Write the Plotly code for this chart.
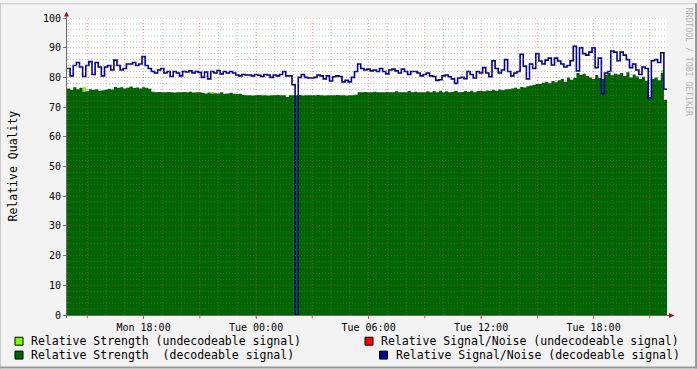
import plotly.graph_objects as go
import pandas as pd

# ---------------- data ----------------
start_time = "2024-01-01 13:55"   # Monday
end_time = "2024-01-02 21:55"     # Tuesday
step_minutes = 10

snr_decodeable = [
    83.0, 80.5, 84.0, 85.0, 83.5, 80.3, 84.0, 85.3, 81.0, 85.0,
    83.5, 80.5, 83.5, 84.0, 82.5, 85.8, 84.0, 82.5, 83.0, 84.5,
    84.5, 85.0, 84.0, 84.5, 87.0, 84.0, 83.0, 82.0, 81.5, 82.5,
    83.0, 81.5, 82.0, 80.3, 82.0, 81.5, 80.5, 82.0, 81.8, 82.2,
    81.5, 82.0, 81.7, 80.0, 81.8, 79.5, 82.0, 81.5, 82.3, 81.2,
    82.0, 81.5, 82.0, 81.5, 80.8, 80.5, 81.0, 80.8, 80.8, 80.5,
    81.0, 80.7, 80.3, 81.0, 80.8, 80.0, 80.8, 80.5, 81.0, 82.0,
    80.5, 80.5, 77.5, 0.0, 80.0, 81.0, 80.0, 79.8, 79.8, 80.0,
    80.8, 80.5, 79.5, 80.5, 78.8, 80.2, 80.5, 80.3, 78.5, 79.0,
    78.5, 80.0, 82.0, 84.5, 83.0, 82.5, 82.8, 82.2, 82.5, 82.0,
    83.0, 82.0, 81.2, 82.5, 82.8, 82.2, 81.5, 82.8, 82.0, 81.0,
    82.0, 82.0, 81.5, 80.5, 81.0, 81.5, 80.5, 80.3, 79.0, 79.2,
    80.5, 80.8, 80.2, 79.5, 78.0, 79.8, 80.0, 79.6, 82.0, 81.0,
    79.8, 82.0, 81.5, 83.3, 81.5, 80.2, 85.6, 83.0, 81.5, 82.5,
    86.0, 82.0, 80.5, 81.5, 82.0, 87.8, 83.8, 79.5, 84.5, 83.0,
    88.0, 85.5, 84.5, 85.8, 86.5, 84.2, 86.5, 85.5, 84.5, 83.5,
    84.0, 85.6, 90.5, 82.2, 90.0, 88.0, 87.5, 88.5, 90.0, 83.3,
    86.5, 74.5, 81.5, 82.0, 88.9, 88.5, 85.6, 88.5, 87.5, 86.0,
    83.3, 84.5, 82.5, 81.0, 83.5, 83.0, 73.0, 85.6, 86.0, 85.0,
    88.3, 76.0,
]

strength_decodeable = [
    76.3, 75.8, 76.7, 76.0, 76.5, 75.2, 75.3, 76.0, 75.8, 76.0,
    75.5, 75.7, 75.8, 76.2, 75.9, 76.8, 76.5, 76.7, 76.3, 76.5,
    76.9, 76.4, 76.6, 76.3, 76.7, 76.5, 76.2, 75.2, 75.0, 75.1,
    75.0, 75.0, 75.1, 75.0, 74.9, 75.0, 75.0, 75.1, 75.0, 75.2,
    74.9, 75.0, 75.0, 74.8, 74.6, 74.9, 74.5, 74.7, 74.6, 75.0,
    74.5, 74.6, 74.8, 74.5, 74.4, 74.5, 74.1, 74.0, 74.0, 73.9,
    74.0, 74.1, 74.0, 74.0, 73.9, 74.0, 74.0, 74.1, 74.0, 74.0,
    73.4, 74.0, 74.0, 74.0, 74.1, 73.9, 74.0, 74.0, 74.0, 74.0,
    74.1, 74.0, 73.9, 74.0, 74.0, 74.0, 74.1, 74.0, 74.0, 73.9,
    74.0, 74.0, 74.2, 75.0, 75.0, 75.1, 75.0, 75.0, 75.2, 75.0,
    75.0, 75.0, 75.1, 75.0, 75.0, 75.3, 75.0, 75.0, 75.0, 75.4,
    75.0, 75.2, 75.0, 75.0, 75.0, 75.3, 75.0, 75.4, 75.0, 75.5,
    75.0, 75.3, 75.0, 75.2, 75.5, 75.0, 75.1, 75.4, 75.2, 75.5,
    75.0, 75.4, 75.5, 75.3, 75.6, 75.4, 75.8, 75.5, 75.9, 75.7,
    76.0, 76.0, 76.3, 76.5, 76.2, 76.8, 76.6, 77.0, 77.3, 77.5,
    77.8, 77.8, 78.2, 78.5, 78.0, 78.8, 78.4, 79.0, 79.5, 78.5,
    80.0, 79.2, 79.8, 81.5, 80.8, 81.2, 80.5, 80.0, 79.5, 80.8,
    79.8, 79.5, 81.0, 81.5, 80.7, 81.2, 81.0, 81.5, 80.5, 81.7,
    80.0, 81.0, 80.3, 79.5, 80.2, 78.9, 73.5, 79.5, 80.0, 79.0,
    81.5, 72.5,
]

# sparse samples (index -> value); everything else is unknown
strength_undecodeable = {5: 76.8, 46: 75.2, 190: 82.6}
snr_undecodeable = {}

tick_times = ["2024-01-01 18:00", "2024-01-02 00:00", "2024-01-02 06:00",
              "2024-01-02 12:00", "2024-01-02 18:00"]
tick_labels = ["Mon 18:00", "Tue 00:00", "Tue 06:00", "Tue 12:00", "Tue 18:00"]

legend_items = [
    ("Relative Strength (undecodeable signal)", "#7FFF00"),
    ("Relative Signal/Noise (undecodeable signal)", "#FF0000"),
    ("Relative Strength\u00a0 (decodeable signal)", "#006400"),
    ("Relative Signal/Noise (decodeable signal)", "#00008C"),
]

# ---------------- geometry ----------------
W, H = 697, 369
L, T = 67, 15
PW, PH = 600, 300
R = W - L - PW
B = H - T - PH
FONT = "DejaVu Sans Mono"


def px(xp):
    return (xp - L) / PW


def py(yp):
    return (T + PH - yp) / PH


t0 = pd.Timestamp(start_time)
t1 = pd.Timestamp(end_time)
step = pd.Timedelta(minutes=step_minutes)
N = len(snr_decodeable)
times = [t0 + i * step for i in range(N)]
times_ext = times + [t1]

fig = go.Figure()

# undecodeable strength (tiny slivers) as bars
und_idx = sorted(strength_undecodeable)
fig.add_trace(go.Bar(
    x=[times[i] + step / 2 for i in und_idx],
    y=[strength_undecodeable[i] for i in und_idx],
    width=step.total_seconds() * 1000,
    marker=dict(color="#7FFF00", line=dict(width=0)),
    showlegend=False, hoverinfo="skip"))

fig.add_trace(go.Scatter(
    x=times_ext, y=strength_decodeable + [strength_decodeable[-1]],
    mode="lines", line=dict(shape="hv", width=0, color="#006400"),
    fill="tozeroy", fillcolor="#006400", showlegend=False, hoverinfo="skip"))

fig.add_trace(go.Scatter(
    x=times_ext, y=snr_decodeable + [snr_decodeable[-1]],
    mode="lines", line=dict(shape="hv", width=1.6, color="#00008C"),
    showlegend=False, hoverinfo="skip"))

shapes = []
# grid (drawn above the data like rrdtool)
minor_col = "rgba(120,120,120,0.45)"
major_col = "rgba(225,70,70,0.5)"
for v in range(2, 101, 2):
    col = major_col if v % 10 == 0 else minor_col
    shapes.append(dict(type="line", xref="paper", yref="y", x0=0, x1=1, y0=v, y1=v,
                       line=dict(color=col, width=1, dash="1px,2px"), layer="above"))
h = pd.Timestamp("2024-01-01 14:00")
while h < t1:
    col = major_col if h.hour % 3 == 0 else minor_col
    shapes.append(dict(type="line", xref="x", yref="paper", x0=h, x1=h, y0=0, y1=1,
                       line=dict(color=col, width=1, dash="1px,2px"), layer="above"))
    if h.hour % 3 == 0:
        shapes.append(dict(type="line", xref="x", yref="paper", x0=h, x1=h,
                           y0=py(315), y1=py(318.5),
                           line=dict(color="#D06060", width=1), layer="above"))
    h += pd.Timedelta(hours=1)

# axes lines and arrows
axis_col = "#6A6A6A"
arrow_col = "#8B1A1A"
shapes.append(dict(type="line", xref="paper", yref="paper", x0=px(66.5), x1=px(66.5),
                   y0=py(318), y1=py(12), line=dict(color=axis_col, width=1), layer="above"))
shapes.append(dict(type="line", xref="paper", yref="paper", x0=px(64), x1=px(670),
                   y0=py(315.5), y1=py(315.5), line=dict(color=axis_col, width=1), layer="above"))
shapes.append(dict(type="path", xref="paper", yref="paper",
                   path=f"M {px(64)} {py(13.5)} L {px(69)} {py(13.5)} L {px(66.5)} {py(8.5)} Z",
                   fillcolor=arrow_col, line=dict(width=0), layer="above"))
shapes.append(dict(type="path", xref="paper", yref="paper",
                   path=f"M {px(669)} {py(313)} L {px(669)} {py(318)} L {px(674.5)} {py(315.5)} Z",
                   fillcolor=arrow_col, line=dict(width=0), layer="above"))

# frame shading
shapes.append(dict(type="rect", xref="paper", yref="paper", x0=px(0), x1=px(W), y0=py(0), y1=py(1),
                   fillcolor="#CBCBCB", line=dict(width=0)))
shapes.append(dict(type="rect", xref="paper", yref="paper", x0=px(0), x1=px(1), y0=py(0), y1=py(H),
                   fillcolor="#CBCBCB", line=dict(width=0)))
shapes.append(dict(type="rect", xref="paper", yref="paper", x0=px(0), x1=px(W), y0=py(H - 2), y1=py(H),
                   fillcolor="#999999", line=dict(width=0)))
shapes.append(dict(type="rect", xref="paper", yref="paper", x0=px(W - 2), x1=px(W), y0=py(0), y1=py(H),
                   fillcolor="#999999", line=dict(width=0)))

annotations = []
# legend
legend_pos = [(15, 341.5), (365, 341.5), (15, 355.5), (379.5, 355.5)]
for (label, color), (lx, ly) in zip(legend_items, legend_pos):
    shapes.append(dict(type="rect", xref="paper", yref="paper",
                       x0=px(lx), x1=px(lx + 8), y0=py(ly - 4), y1=py(ly + 4),
                       fillcolor=color, line=dict(color="#000000", width=1)))
    annotations.append(dict(text=label, xref="paper", yref="paper", x=px(lx + 14), y=py(ly),
                            xanchor="left", yanchor="middle", showarrow=False,
                            font=dict(family=FONT, size=11.5, color="#000000")))

annotations.append(dict(text="Relative Quality", xref="paper", yref="paper",
                        x=px(12), y=py(165), textangle=-90, showarrow=False,
                        xanchor="center", yanchor="middle",
                        font=dict(family=FONT, size=11.5, color="#000000")))
annotations.append(dict(text="RRDTOOL / TOBI OETIKER", xref="paper", yref="paper",
                        x=px(689), y=py(59), textangle=90, showarrow=False,
                        xanchor="center", yanchor="middle",
                        font=dict(family=FONT, size=8.2, color="#B4B4B4")))

fig.update_layout(
    width=W, height=H,
    margin=dict(l=L, r=R, t=T, b=B),
    paper_bgcolor="#F3F3F3", plot_bgcolor="#FFFFFF",
    barmode="overlay", bargap=0,
    showlegend=False,
    shapes=shapes, annotations=annotations,
    xaxis=dict(type="date", range=[t0, t1], tickmode="array",
               tickvals=tick_times, ticktext=tick_labels,
               ticks="outside", ticklen=3, tickcolor="#D06060",
               showgrid=False, zeroline=False, showline=False,
               tickfont=dict(family=FONT, size=10, color="#000000")),
    yaxis=dict(range=[0, 100], dtick=10, tick0=0,
               ticks="outside", ticklen=3, tickcolor="#707070",
               showgrid=False, zeroline=False, showline=False,
               tickfont=dict(family=FONT, size=10, color="#000000")),
)

fig.write_html("out.html")
